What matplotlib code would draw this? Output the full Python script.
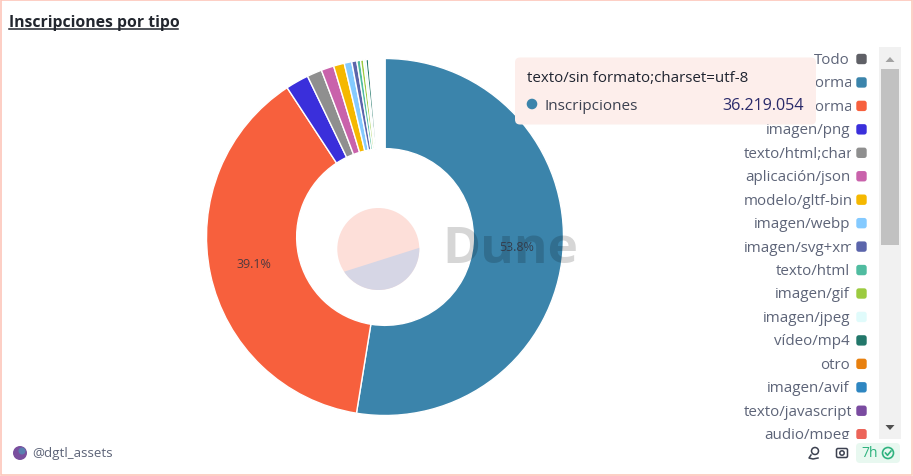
import matplotlib
matplotlib.use('Agg')
import matplotlib.pyplot as plt
from matplotlib.patches import Circle, FancyBboxPatch, Rectangle, Polygon
from matplotlib.transforms import Bbox

# valores en millones de inscripciones
tipos = ['texto/sin formato;charset=utf-8', 'texto/sin formato', 'imagen/png',
         'texto/html;charset=utf-8', 'aplicación/json', 'modelo/gltf-binary',
         'imagen/webp', 'imagen/svg+xml', 'texto/html', 'imagen/gif',
         'imagen/jpeg', 'vídeo/mp4', 'otro', 'imagen/avif',
         'texto/javascript', 'audio/mpeg']
valores = [36.219, 26.33, 1.44, 0.93, 0.795, 0.67, 0.47, 0.316,
           0.23, 0.19, 0.144, 0.163, 0.077, 0.04, 0.03, 0.02]
colores = ['#3b84ab', '#f7603d', '#3a2fdb', '#8f8f8f', '#c962ab', '#f5b800',
           '#84caff', '#5b65ab', '#50bca0', '#9ccb40', '#e0fbfb', '#22776a',
           '#e8800e', '#2e86c1', '#7a4ba0', '#ec6459']
# el resto de la lista (fuera de la leyenda visible), casi invisible
resto = 0.85
porcentajes = ['53.8%', '39.1%']

plt.rcParams['font.family'] = ['Open Sans', 'DejaVu Sans']
fig = plt.figure(figsize=(9.13, 4.77), dpi=100, facecolor='white')

# donut
ax = fig.add_axes([206.5 / 913, (477 - 416.5) / 477, 357 / 913, 357 / 477], zorder=1)
ax.pie(valores + [resto], colors=colores + ['white'], startangle=90, counterclock=False,
       radius=1, wedgeprops=dict(width=0.505, edgecolor='white', linewidth=1.0))
ax.set_xlim(-1, 1)
ax.set_ylim(-1, 1)
ax.set_aspect('equal')

# capa en pixeles para todo lo demas
ov = fig.add_axes([0, 0, 1, 1], zorder=2)
ov.set_xlim(0, 913)
ov.set_ylim(477, 0)
ov.axis('off')
ov.patch.set_alpha(0)

# borde
ov.add_patch(Rectangle((0.5, 0.5), 911, 475, fill=False, ec='#fdc6ba', lw=1.2))

# titulo
ov.text(9, 22.7, 'Inscripciones por tipo', fontsize=11.3, fontweight='bold', color='#22262e', va='center')
ov.plot([9, 178], [29.5, 29.5], color='#22262e', lw=1.1)

# logo del centro y marca de agua
logo = Circle((378.3, 250), 41, fc='#fddfd9', ec='none')
ov.add_patch(logo)
seg = Polygon([(340, 274), (425, 247), (425, 300), (340, 300)], fc='#d6d6e5', ec='none')
ov.add_patch(seg)
seg.set_clip_path(logo)
ov.text(442, 250, 'Dune', fontsize=37, fontweight='bold', color='black', alpha=0.16, va='center')

ov.text(254, 265, porcentajes[1], fontsize=9, color='#33333f', ha='center', va='center', alpha=0.85)
ov.text(517, 247.5, porcentajes[0], fontsize=9, color='#33333f', ha='center', va='center', alpha=0.85)

# leyenda, cortada a la derecha y abajo (caja en pixeles de la figura)
leg_tipos = ['Todo'] + tipos
leg_colores = ['#5f6066'] + colores
caja = Bbox([[700, 477 - 440], [850.5, 477 - 48]])
for i, (t, c) in enumerate(zip(leg_tipos, leg_colores)):
    y = 60.5 + i * 23.45
    if len(t) > 15 or t == 'imagen/svg+xml':
        txt = ov.text(744, y, t, fontsize=10.9, color='#5d6478', ha='left', va='center', clip_on=True)
    else:
        txt = ov.text(850, y, t, fontsize=10.9, color='#5d6478', ha='right', va='center', clip_on=True)
    txt.set_clip_box(caja)
    sw = FancyBboxPatch((857.5, y - 4.5), 8, 8, boxstyle='round,pad=1.2,rounding_size=2.5', fc=c, ec='none')
    ov.add_patch(sw)
    sw.set_clip_box(Bbox([[850, 477 - 440], [875, 477 - 48]]))

# barra de desplazamiento
ov.add_patch(Rectangle((879, 48), 22, 392, fc='#f1f1f1', ec='none'))
ov.add_patch(Rectangle((881, 70), 18, 176, fc='#c1c1c1', ec='none'))
ov.add_patch(Polygon([(885.5, 63), (894.5, 63), (890, 58)], fc='#a3a3a3', ec='none'))
ov.add_patch(Polygon([(885.5, 426), (894.5, 426), (890, 431)], fc='#505050', ec='none'))

# tooltip
ov.add_patch(FancyBboxPatch((519, 62.5), 293, 59, boxstyle='round,pad=4,rounding_size=5',
                            fc='#fdeeeb', ec='none', zorder=5))
ov.text(527, 78.5, tipos[0], fontsize=10.9, color='#1f2430', va='center', zorder=6)
ov.add_patch(Circle((532, 105), 5.3, fc=colores[0], ec='none', zorder=6))
ov.text(544, 106.5, 'Inscripciones', fontsize=11, color='#3c4150', va='center', zorder=6)
ov.text(804, 106.5, '36.219.054', fontsize=11.6, color='#2a2a6a', va='center', ha='right', zorder=6)

# pie de la tarjeta
ov.add_patch(Circle((20, 454), 7, fc='#7a4f9e', ec='none'))
ov.add_patch(Circle((22, 452), 3.5, fc='#5a7fb0', ec='none'))
ov.text(32, 454, '@dgtl_assets', fontsize=9.6, color='#5d6478', va='center')

# icono de enchufe
ov.add_patch(Circle((815, 452), 3.5, fill=False, ec='#3c4150', lw=1.1))
ov.plot([811, 809, 813, 818], [456, 459, 460, 459], color='#3c4150', lw=1.1)
# icono de camara
ov.add_patch(FancyBboxPatch((837, 450), 10, 8, boxstyle='round,pad=0.5,rounding_size=1.5',
                            fill=False, ec='#3c4150', lw=1.1))
ov.add_patch(Circle((842, 454), 2.2, fill=False, ec='#3c4150', lw=1.1))

# etiqueta 7h
ov.add_patch(FancyBboxPatch((859, 447), 38, 14, boxstyle='round,pad=3,rounding_size=4', fc='#e8f8f0', ec='none'))
ov.text(861, 454, '7h', fontsize=10, color='#2fb37f', va='center')
ov.add_patch(Circle((888, 454), 5.5, fill=False, ec='#2fb37f', lw=1.2))
ov.plot([885.5, 887.5, 891], [454, 456.3, 452], color='#2fb37f', lw=1.2)

fig.savefig('out.png', dpi=100)
